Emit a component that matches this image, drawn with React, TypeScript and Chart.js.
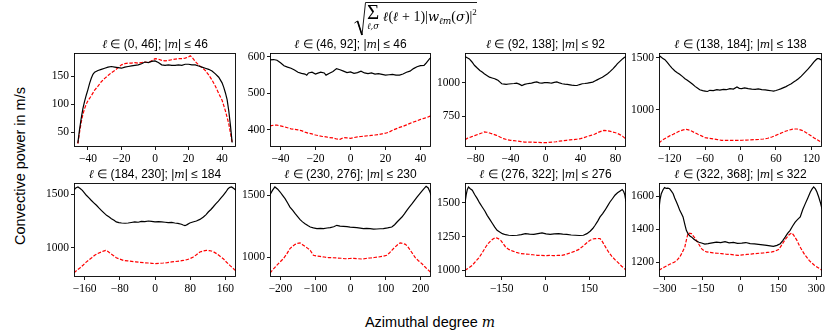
import React, { useEffect, useRef } from "react";
import { Chart, registerables } from "chart.js";
Chart.register(...registerables);
Chart.defaults.font.family = "'Liberation Serif', 'Times New Roman', serif";

type Pt = [number, number];

// ---------- data: [azimuthal degree m, convective power] ----------
const P1_BLACK: Pt[] = [[-46,31],[-45,55],[-44,75],[-43,92],[-42,105],[-41,116],[-40,126],[-39,137],[-38,146],[-37,153],[-36,157],[-34,160],[-32,162],[-30,164],[-28,166],[-26,167],[-24,166],[-22,165],[-20,164],[-18,166],[-16,167],[-14,168],[-12,169],[-10,170],[-8,172],[-6,175],[-4,174],[-2,176],[0,177],[2,174],[4,170],[6,169],[8,170],[10,169],[12,169],[14,170],[16,169],[18,171],[20,171],[22,170],[24,170],[26,168],[28,166],[30,164],[32,162],[34,159],[36,154],[38,148],[40,138],[41,130],[42,120],[43,108],[44,88],[45,62],[46,32]];
const P1_RED: Pt[] = [[-46,30],[-45,50],[-44,68],[-43,82],[-42,92],[-41,100],[-40,106],[-38,115],[-36,125],[-34,132],[-32,140],[-30,146],[-28,151],[-26,156],[-24,160],[-22,165],[-20,170],[-18,172],[-16,173],[-14,173],[-12,174],[-10,173],[-8,174],[-6,175],[-4,174],[-2,177],[0,181],[2,180],[4,178],[6,177],[8,178],[10,179],[12,180],[14,181],[16,181],[18,182],[20,184],[21,186],[22,184],[24,176],[26,170],[28,165],[30,160],[32,152],[34,143],[36,132],[38,119],[40,107],[42,88],[44,65],[46,32]];

const P2_BLACK: Pt[] = [[-46,592],[-44,593],[-42,591],[-40,584],[-38,576],[-36,572],[-34,569],[-32,564],[-30,558],[-28,555],[-26,553],[-25,550],[-24,556],[-22,558],[-20,553],[-19,555],[-17,558],[-15,556],[-14,550],[-12,555],[-10,560],[-8,568],[-6,565],[-4,561],[-2,557],[0,559],[2,555],[4,557],[6,561],[8,556],[10,554],[12,556],[14,553],[16,554],[18,552],[20,550],[22,551],[24,552],[26,550],[28,550],[30,553],[32,558],[34,561],[36,568],[38,573],[40,576],[42,577],[43,582],[44,588],[45,594],[46,599]];
const P2_RED: Pt[] = [[-46,410],[-44,412],[-42,412],[-40,410],[-38,408],[-36,405],[-34,402],[-32,401],[-30,399],[-28,397],[-26,393],[-24,390],[-22,388],[-20,385],[-18,383],[-16,381],[-14,380],[-12,378],[-10,377],[-8,374],[-6,373],[-4,378],[-2,377],[0,376],[2,378],[4,380],[6,381],[8,382],[10,383],[12,384],[14,385],[16,386],[18,388],[20,390],[22,393],[24,398],[26,402],[28,406],[30,409],[32,413],[34,417],[36,421],[38,424],[40,428],[42,431],[44,434],[46,438]];

const P3_BLACK: Pt[] = [[-92,1195],[-89,1185],[-87,1178],[-84,1155],[-81,1129],[-78,1110],[-75,1092],[-72,1078],[-70,1067],[-67,1055],[-64,1042],[-61,1036],[-58,1030],[-56,1024],[-54,1017],[-52,1005],[-50,993],[-47,990],[-45,988],[-42,991],[-39,993],[-36,995],[-33,998],[-30,990],[-27,980],[-24,988],[-21,993],[-18,996],[-16,998],[-13,1003],[-10,1007],[-7,1000],[-4,998],[-1,1001],[2,1002],[5,999],[7,998],[10,1003],[13,1007],[16,999],[19,993],[22,990],[25,988],[28,985],[30,983],[33,981],[36,980],[39,987],[42,993],[45,995],[48,998],[51,1002],[54,1005],[57,1015],[59,1022],[62,1032],[65,1042],[68,1055],[71,1067],[74,1085],[77,1104],[80,1125],[82,1141],[85,1160],[88,1178],[90,1188],[92,1195]];
const P3_RED: Pt[] = [[-92,577],[-89,588],[-85,597],[-81,607],[-77,616],[-73,626],[-70,634],[-67,632],[-64,626],[-60,618],[-56,609],[-52,596],[-48,584],[-44,577],[-40,572],[-36,569],[-32,566],[-28,562],[-24,559],[-20,559],[-16,559],[-12,557],[-8,556],[-4,555],[0,554],[4,556],[8,558],[12,561],[16,566],[20,569],[24,572],[28,575],[32,577],[36,580],[40,584],[44,592],[48,601],[52,609],[56,617],[60,630],[64,640],[67,646],[70,644],[73,640],[76,635],[79,630],[82,624],[85,614],[88,603],[90,592],[92,577]];

const P4_BLACK: Pt[] = [[-138,1500],[-136,1513],[-132,1495],[-128,1481],[-124,1455],[-120,1426],[-116,1400],[-111,1372],[-107,1355],[-103,1340],[-98,1318],[-94,1298],[-90,1283],[-86,1266],[-81,1244],[-77,1224],[-73,1208],[-69,1192],[-64,1183],[-60,1179],[-56,1175],[-52,1186],[-46,1183],[-40,1192],[-35,1188],[-29,1195],[-24,1192],[-18,1202],[-12,1198],[-6,1218],[-2,1205],[2,1202],[7,1210],[13,1202],[19,1197],[25,1195],[30,1200],[36,1192],[42,1190],[47,1186],[52,1182],[56,1179],[60,1184],[64,1192],[68,1200],[73,1212],[77,1222],[81,1234],[86,1250],[90,1266],[94,1280],[98,1298],[103,1322],[107,1346],[111,1370],[115,1394],[120,1428],[124,1458],[127,1475],[130,1490],[133,1490],[136,1481],[138,1478]];
const P4_RED: Pt[] = [[-138,680],[-134,700],[-130,716],[-125,731],[-120,748],[-114,763],[-108,780],[-103,795],[-97,805],[-92,811],[-88,806],[-83,795],[-78,780],[-72,763],[-66,748],[-60,731],[-53,724],[-46,718],[-39,712],[-32,705],[-25,704],[-18,705],[-11,704],[-4,705],[3,706],[10,708],[17,709],[24,712],[31,714],[39,718],[46,725],[53,737],[58,748],[64,763],[70,778],[76,792],[82,803],[87,811],[92,814],[96,814],[100,808],[104,801],[108,790],[112,776],[118,754],[124,731],[130,710],[135,692],[138,683]];

const P5_BLACK: Pt[] = [[-184,1540],[-180,1560],[-175,1569],[-170,1555],[-165,1537],[-160,1512],[-156,1491],[-150,1466],[-145,1444],[-139,1420],[-133,1397],[-128,1375],[-122,1350],[-116,1326],[-110,1303],[-104,1287],[-99,1272],[-93,1256],[-88,1241],[-82,1235],[-76,1231],[-68,1229],[-61,1231],[-54,1236],[-46,1241],[-38,1238],[-31,1247],[-23,1244],[-15,1250],[-8,1246],[0,1241],[8,1244],[15,1241],[23,1238],[30,1234],[38,1236],[45,1231],[52,1228],[60,1219],[64,1212],[68,1206],[73,1216],[79,1231],[86,1240],[94,1250],[102,1265],[110,1287],[116,1310],[121,1334],[127,1358],[132,1381],[138,1410],[144,1437],[150,1466],[155,1491],[161,1522],[166,1553],[170,1565],[174,1569],[179,1555],[184,1537]];
const P5_RED: Pt[] = [[-184,765],[-177,790],[-170,812],[-163,838],[-157,862],[-150,886],[-143,908],[-137,928],[-130,945],[-122,959],[-117,968],[-112,975],[-106,962],[-101,944],[-94,925],[-88,906],[-80,893],[-72,881],[-62,876],[-53,872],[-44,867],[-34,862],[-25,859],[-15,856],[-7,853],[0,850],[9,853],[19,856],[28,860],[38,866],[47,870],[56,875],[64,880],[72,887],[80,898],[87,912],[94,933],[102,959],[110,970],[117,975],[123,972],[128,969],[134,958],[140,944],[147,922],[155,897],[162,866],[170,834],[177,808],[184,781]];

const P6_BLACK: Pt[] = [[-230,1505],[-223,1540],[-216,1568],[-208,1550],[-201,1527],[-194,1500],[-187,1473],[-180,1440],[-173,1405],[-165,1378],[-158,1351],[-151,1327],[-144,1303],[-137,1285],[-130,1270],[-122,1255],[-115,1243],[-106,1236],[-96,1230],[-86,1232],[-77,1230],[-67,1235],[-58,1238],[-48,1245],[-39,1257],[-30,1250],[-20,1249],[-10,1246],[-1,1243],[9,1241],[18,1238],[28,1234],[37,1230],[46,1232],[56,1230],[66,1226],[75,1227],[85,1229],[94,1230],[106,1236],[118,1243],[126,1262],[133,1284],[140,1304],[147,1324],[154,1350],[161,1378],[168,1405],[176,1432],[183,1459],[190,1486],[197,1510],[204,1535],[210,1555],[216,1573],[222,1560],[228,1520],[230,1500]];
const P6_RED: Pt[] = [[-230,870],[-221,900],[-211,932],[-202,958],[-192,986],[-182,1025],[-173,1068],[-165,1088],[-158,1103],[-151,1110],[-144,1114],[-137,1100],[-130,1086],[-122,1070],[-115,1054],[-106,1014],[-96,1008],[-87,1005],[-75,1000],[-63,995],[-51,994],[-39,992],[-27,990],[-15,986],[-3,988],[9,989],[21,986],[32,984],[44,988],[56,992],[68,996],[80,1000],[92,1006],[104,1014],[111,1032],[118,1054],[125,1075],[133,1095],[138,1108],[142,1114],[149,1110],[157,1103],[164,1082],[171,1054],[178,1025],[185,995],[194,970],[204,946],[211,925],[218,905],[224,890],[230,872]];

const P7_BLACK: Pt[] = [[-276,1500],[-272,1560],[-268,1600],[-264,1618],[-258,1605],[-251,1594],[-243,1563],[-234,1532],[-226,1500],[-217,1470],[-208,1440],[-200,1408],[-191,1378],[-182,1347],[-174,1320],[-166,1297],[-157,1284],[-148,1272],[-137,1264],[-126,1260],[-112,1258],[-97,1260],[-83,1265],[-69,1272],[-55,1268],[-40,1267],[-26,1272],[-12,1277],[2,1270],[16,1267],[30,1270],[45,1272],[59,1268],[73,1267],[88,1262],[102,1260],[116,1258],[130,1260],[142,1272],[153,1290],[162,1310],[170,1334],[179,1365],[187,1396],[196,1420],[204,1446],[213,1478],[221,1507],[230,1533],[238,1557],[247,1575],[256,1589],[263,1600],[268,1585],[272,1560],[276,1510]];
const P7_RED: Pt[] = [[-276,1000],[-263,1018],[-251,1037],[-240,1065],[-228,1094],[-217,1130],[-205,1173],[-196,1200],[-188,1218],[-180,1232],[-171,1243],[-162,1235],[-154,1223],[-146,1200],[-137,1173],[-126,1155],[-114,1144],[-100,1133],[-86,1124],[-72,1121],[-57,1119],[-43,1115],[-29,1111],[-14,1110],[0,1109],[14,1110],[28,1109],[42,1110],[56,1111],[70,1118],[85,1129],[99,1140],[113,1153],[125,1172],[136,1193],[145,1210],[153,1223],[162,1232],[170,1235],[178,1236],[187,1235],[193,1220],[199,1198],[207,1168],[216,1136],[227,1105],[238,1079],[250,1055],[261,1030],[270,1015],[276,1000]];

const P8_BLACK: Pt[] = [[-322,1525],[-318,1580],[-313,1616],[-306,1640],[-300,1653],[-293,1648],[-287,1650],[-280,1646],[-273,1632],[-266,1616],[-260,1590],[-253,1566],[-246,1540],[-240,1515],[-233,1495],[-227,1475],[-220,1430],[-214,1394],[-207,1372],[-200,1360],[-194,1354],[-184,1340],[-174,1329],[-164,1322],[-154,1317],[-141,1310],[-128,1313],[-112,1318],[-95,1323],[-78,1320],[-61,1325],[-45,1318],[-28,1321],[-12,1315],[5,1317],[21,1320],[38,1313],[55,1312],[71,1309],[88,1306],[104,1303],[117,1300],[130,1297],[144,1303],[157,1313],[167,1332],[177,1354],[186,1375],[196,1394],[206,1420],[216,1444],[226,1460],[236,1475],[246,1520],[256,1556],[266,1590],[276,1626],[283,1645],[289,1657],[296,1645],[302,1626],[309,1596],[315,1566],[322,1525]];
const P8_RED: Pt[] = [[-322,1152],[-311,1162],[-300,1172],[-290,1180],[-280,1188],[-270,1195],[-260,1202],[-250,1215],[-240,1232],[-230,1260],[-220,1293],[-213,1340],[-207,1378],[-200,1376],[-194,1374],[-184,1355],[-174,1333],[-164,1308],[-154,1283],[-144,1270],[-134,1263],[-121,1260],[-108,1257],[-91,1255],[-75,1253],[-58,1250],[-42,1248],[-25,1245],[-9,1242],[8,1245],[25,1248],[41,1250],[58,1253],[74,1255],[91,1257],[107,1260],[124,1263],[137,1268],[150,1277],[160,1298],[170,1323],[180,1345],[190,1364],[196,1372],[203,1378],[210,1365],[216,1350],[223,1333],[233,1300],[243,1273],[253,1248],[263,1228],[272,1210],[282,1196],[292,1182],[302,1172],[312,1162],[322,1152]];

// ---------- axes / titles ----------
const L_RANGES: [number, number][] = [[0, 46], [46, 92], [92, 138], [138, 184], [184, 230], [230, 276], [276, 322], [322, 368]];
const M_MAX = [46, 46, 92, 138, 184, 230, 276, 322];
const X_LIMITS = [48.3, 46, 92, 138, 184, 230, 276, 322];
const Y_LIMITS: [number, number][] = [[24, 191], [352, 611], [522, 1222], [641, 1545], [725, 1606], [838, 1600], [950, 1648], [1111, 1681]];
const X_TICKS = [
  [-40, -20, 0, 20, 40], [-40, -20, 0, 20, 40], [-80, -40, 0, 40, 80], [-120, -60, 0, 60, 120],
  [-160, -80, 0, 80, 160], [-200, -100, 0, 100, 200], [-150, 0, 150], [-300, -150, 0, 150, 300],
];
const Y_TICKS = [[50, 100, 150], [400, 500, 600], [750, 1000], [1000, 1500], [1000, 1500], [1000, 1500], [1000, 1250, 1500], [1200, 1400, 1600]];
const SERIES: [Pt[], Pt[]][] = [
  [P1_BLACK, P1_RED], [P2_BLACK, P2_RED], [P3_BLACK, P3_RED], [P4_BLACK, P4_RED],
  [P5_BLACK, P5_RED], [P6_BLACK, P6_RED], [P7_BLACK, P7_RED], [P8_BLACK, P8_RED],
];
const Y_LABEL = "Convective power in m/s";
const X_LABEL = "Azimuthal degree";

// ---------- layout ----------
const FRAME_X: [number, number][] = [[74, 236], [270, 431], [465, 626], [659, 822]];
const FRAME_Y: [number, number][] = [[53, 147], [183, 277]];
const PADL = 45, PADT = 10, PADR = 15, PADB = 22;

const fmt = (v: number) => (v < 0 ? "\u2212" + Math.abs(v) : String(v));

const framePlugin = {
  id: "frame",
  afterDatasetsDraw(chart: any) {
    const { ctx, chartArea: a } = chart;
    ctx.save();
    ctx.strokeStyle = "#000";
    ctx.lineWidth = 0.9;
    ctx.strokeRect(a.left + 0.5, a.top + 0.5, a.right - a.left - 1, a.bottom - a.top - 1);
    ctx.restore();
  },
};

const tickFont = { family: "'Liberation Serif', 'Times New Roman', serif", size: 11.5, style: "normal" as const, weight: "normal" as const };

function Panel({ idx }: { idx: number }) {
  const ref = useRef<HTMLCanvasElement>(null);
  const col = idx % 4;
  const row = Math.floor(idx / 4);
  const [fl, fr] = FRAME_X[col];
  const [ft, fb] = FRAME_Y[row];
  const w = fr - fl + PADL + PADR;
  const h = fb - ft + PADT + PADB;
  useEffect(() => {
    const [black, red] = SERIES[idx];
    const xl = X_LIMITS[idx];
    const [ymin, ymax] = Y_LIMITS[idx];
    const chart = new Chart(ref.current as HTMLCanvasElement, {
      type: "line",
      data: {
        datasets: [
          {
            data: black.map(([x, y]) => ({ x, y })),
            borderColor: "#000000",
            borderWidth: 1.2,
            pointRadius: 0,
            fill: false,
            tension: 0,
          },
          {
            data: red.map(([x, y]) => ({ x, y })),
            borderColor: "#ff0000",
            borderWidth: 1.2,
            borderDash: [3.5, 1.6],
            pointRadius: 0,
            fill: false,
            tension: 0,
          },
        ],
      },
      options: {
        animation: false,
        responsive: false,
        maintainAspectRatio: false,
        devicePixelRatio: 1,
        font: tickFont,
        layout: { padding: { left: 0, top: PADT, right: PADR, bottom: 0 } },
        plugins: { legend: { display: false }, tooltip: { enabled: false }, title: { display: false } },
        scales: {
          x: {
            type: "linear",
            min: -xl,
            max: xl,
            afterBuildTicks: (axis: any) => {
              axis.ticks = X_TICKS[idx].map((v) => ({ value: v }));
            },
            afterFit: (axis: any) => {
              axis.height = PADB;
            },
            grid: { drawOnChartArea: false, drawTicks: true, tickLength: 3, color: "#000", lineWidth: 0.9 },
            border: { display: false },
            ticks: { font: tickFont, color: "#000", padding: 2, maxRotation: 0, minRotation: 0, autoSkip: false, callback: (v: any) => fmt(Number(v)) },
          },
          y: {
            type: "linear",
            min: ymin,
            max: ymax,
            afterBuildTicks: (axis: any) => {
              axis.ticks = Y_TICKS[idx].map((v) => ({ value: v }));
            },
            afterFit: (axis: any) => {
              axis.width = PADL;
            },
            grid: { drawOnChartArea: false, drawTicks: true, tickLength: 3, color: "#000", lineWidth: 0.9 },
            border: { display: false },
            ticks: { font: tickFont, color: "#000", padding: 2, autoSkip: false, callback: (v: any) => fmt(Number(v)) },
          },
        },
      } as any,
      plugins: [framePlugin],
    });
    return () => chart.destroy();
  }, [idx]);
  return (
    <canvas
      ref={ref}
      width={w}
      height={h}
      style={{ position: "absolute", left: fl - PADL, top: ft - PADT, width: w, height: h }}
    />
  );
}

const mathIt: React.CSSProperties = { fontFamily: "'DejaVu Serif', serif", fontStyle: "italic" };

function SubTitle({ idx }: { idx: number }) {
  const col = idx % 4;
  const row = Math.floor(idx / 4);
  const [fl, fr] = FRAME_X[col];
  const [ft] = FRAME_Y[row];
  const [lo, hi] = L_RANGES[idx];
  return (
    <div
      style={{
        position: "absolute",
        left: fl - 20,
        width: fr - fl + 40,
        top: ft - 16,
        textAlign: "center",
        fontFamily: "'Liberation Sans', sans-serif",
        fontSize: 12,
        lineHeight: "14px",
        whiteSpace: "nowrap",
        color: "#000",
      }}
    >
      <span style={mathIt}>ℓ</span> ∈ ({lo}, {hi}]; |<span style={{ ...mathIt, fontSize: 11 }}>m</span>| ≤ {M_MAX[idx]}
    </div>
  );
}

export default function App() {
  const idxs = [0, 1, 2, 3, 4, 5, 6, 7];
  return (
    <div style={{ position: "absolute", left: 0, top: 0, width: 830, height: 332, background: "#fff", overflow: "hidden" }}>
      {idxs.map((i) => (
        <Panel key={"p" + i} idx={i} />
      ))}
      {idxs.map((i) => (
        <SubTitle key={"t" + i} idx={i} />
      ))}
      {/* main title: radical sign + vinculum drawn as strokes, formula as text */}
      <svg width={830} height={40} style={{ position: "absolute", left: 0, top: 0 }}>
        <polyline points="354.5,23 357.5,21 362,35 365.5,2.5 477,2.5" fill="none" stroke="#000" strokeWidth={0.9} />
        <line x1={357.5} y1={21} x2={362} y2={35} stroke="#000" strokeWidth={1.6} />
      </svg>
      <div style={{ position: "absolute", left: 367, top: 2, fontFamily: "'Liberation Serif', serif", fontSize: 21, lineHeight: "20px", color: "#000" }}>Σ</div>
      <div style={{ position: "absolute", left: 367, top: 21, ...mathIt, fontSize: 8.5, lineHeight: "10px", color: "#000" }}>ℓ,σ</div>
      <div style={{ position: "absolute", left: 383, top: 4, fontFamily: "'Liberation Serif', serif", fontSize: 14, lineHeight: "17px", color: "#000", whiteSpace: "nowrap" }}>
        <span style={{ ...mathIt, fontSize: 13 }}>ℓ</span>(<span style={{ ...mathIt, fontSize: 13 }}>ℓ</span> + 1)|<span style={{ ...mathIt, fontSize: 13 }}>w</span>
        <sub style={{ ...mathIt, fontSize: 9, verticalAlign: "-3px" }}>ℓm</sub>(<span style={{ ...mathIt, fontSize: 13 }}>σ</span>)|<sup style={{ fontSize: 9, verticalAlign: "6px" }}>2</sup>
      </div>
      {/* y label */}
      <div style={{ position: "absolute", left: 20, top: 166, transform: "translate(-50%, -50%) rotate(-90deg)", fontFamily: "'Liberation Sans', sans-serif", fontSize: 14.5, whiteSpace: "nowrap", color: "#000" }}>{Y_LABEL}</div>
      {/* x label */}
      <div style={{ position: "absolute", left: 430, top: 314, transform: "translateX(-50%)", fontFamily: "'Liberation Sans', sans-serif", fontSize: 14.5, lineHeight: "16px", whiteSpace: "nowrap", color: "#000" }}>
        {X_LABEL} <span style={{ ...mathIt, fontSize: 14 }}>m</span>
      </div>
    </div>
  );
}
